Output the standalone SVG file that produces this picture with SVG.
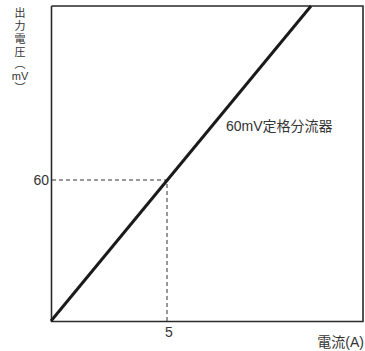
<svg xmlns="http://www.w3.org/2000/svg" width="365" height="351" viewBox="0 0 365 351">
<style>
.t{font-family:"Liberation Sans","Noto Sans CJK JP",sans-serif;fill:#333;font-size:14px}
.v{font-family:"Noto Sans CJK JP",sans-serif;fill:#333;font-size:11px}
.dash{stroke:#333;stroke-width:1;stroke-dasharray:4 3;fill:none}
</style>
<rect width="365" height="351" fill="#fff"/>
<g id="frame"><path d="M51.5 6V321.5H363V6H51.5" fill="none" stroke="#2a2a2a" stroke-width="1.6"/></g>
<g id="connectors">
<path class="dash" d="M52 180H167V321"/>
<line id="line" x1="51" y1="321" x2="311" y2="6" stroke="#1a1a1a" stroke-width="3"/>
</g>
<g id="labels">
<text class="t" x="226" y="131">60mV定格分流器</text>
<text class="t" x="49" y="185" text-anchor="end">60</text>
<text class="t" x="169" y="337" text-anchor="middle">5</text>
<text class="t" x="364" y="347" text-anchor="end">電流(A)</text>
<text id="ylabel" class="v" text-anchor="middle"><tspan x="20" y="17">出</tspan><tspan x="20" y="30">力</tspan><tspan x="20" y="43">電</tspan><tspan x="20" y="56">圧</tspan><tspan x="20" y="68">︵</tspan><tspan x="20" y="80" font-family="Liberation Sans,sans-serif">mV</tspan><tspan x="20" y="92">︶</tspan></text>
</g>
</svg>
